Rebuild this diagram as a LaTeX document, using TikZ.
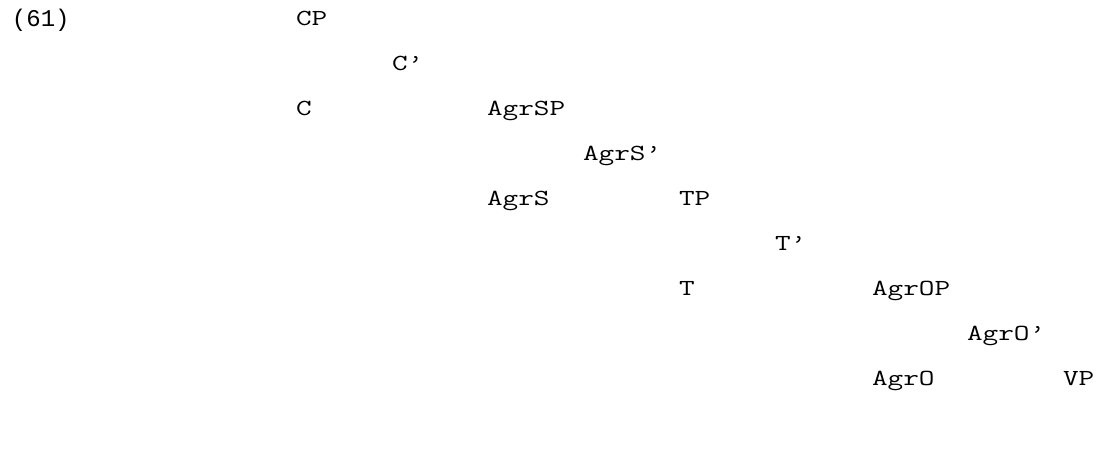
\documentclass[tikz,border=0pt]{standalone}
\usepackage{fontspec}
\newfontfamily\numfont{Liberation Mono}
\newfontfamily\treefont[FakeStretch=1.32]{Latin Modern Mono}
\begin{document}
\begin{tikzpicture}[x=1pt,y=-1pt,
  lab/.style={anchor=base west,inner sep=0pt,outer sep=0pt,
    font=\treefont\fontsize{23}{28}\selectfont},
  exnum/.style={anchor=base west,inner sep=0pt,outer sep=0pt,
    font=\numfont\fontsize{24}{28}\selectfont}]
\useasboundingbox[fill=white] (0,0) rectangle (1096,459);
% column pitch about 95.9, row pitch 45
\node[exnum] (ex)   at (12,26)    {(61)};
\node[lab] (cp)     at (296,25)   {CP};
\node[lab] (cbar)   at (392,70)   {C’};
\node[lab] (c)      at (296,115)  {C};
\node[lab] (agrsp)  at (487,115)  {AgrSP};
\node[lab] (agrsb)  at (583,160)  {AgrS’};
\node[lab] (agrs)   at (487,205)  {AgrS};
\node[lab] (tp)     at (679,205)  {TP};
\node[lab] (tbar)   at (775,250)  {T’};
\node[lab] (t)      at (679,295)  {T};
\node[lab] (agrop)  at (872,295)  {AgrOP};
\node[lab] (agrob)  at (967,340)  {AgrO’};
\node[lab] (agro)   at (872,385)  {AgrO};
\node[lab] (vp)     at (1063,385) {VP};
\end{tikzpicture}
\end{document}
